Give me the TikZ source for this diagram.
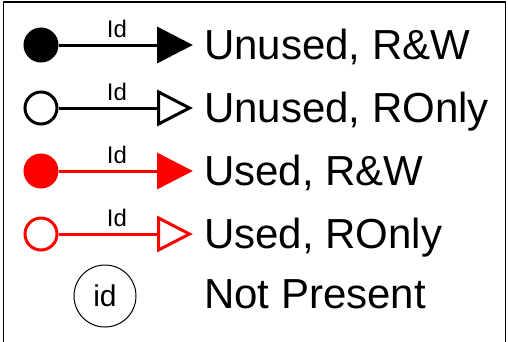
\documentclass[tikz,border=0pt]{standalone}
\usepackage{fontspec}
\setmainfont{Liberation Sans}
\begin{document}
\begin{tikzpicture}[x=1pt,y=-1pt,
  endpoint/.style={circle,draw,line width=3pt,minimum size=32pt,inner sep=0pt},
  link/.style={line width=3pt},
  head/.style={line width=3pt,line join=miter},
  idlabel/.style={font=\fontsize{24}{24}\selectfont,anchor=base,inner sep=0pt},
  legendtext/.style={font=\fontsize{42}{42}\selectfont,anchor=base west,inner sep=0pt}]
  \useasboundingbox (0,0) rectangle (508,341);
  % frame, open at the bottom edge
  \draw[line width=1.8pt] (3.5,360) -- (3.5,2) -- (505.5,2) -- (505.5,360);

  % Unused, R&W
  \node[endpoint,fill=black] (s1) at (41,45) {};
  \coordinate (b1) at (158.5,45);
  \draw[link] (s1) -- (b1);
  \draw[head,fill=black] (b1) ++(0,-16) -- ++(31,16) -- ++(-31,16) -- cycle;
  \node[idlabel] (l1) at (117,37) {Id};
  \node[legendtext] (t1) at (204,59) {Unused, R\&W};

  % Unused, ROnly
  \node[endpoint,fill=white] (s2) at (41,108) {};
  \coordinate (b2) at (158.5,108);
  \draw[link] (s2) -- (b2);
  \draw[head,fill=white] (b2) ++(0,-16) -- ++(31,16) -- ++(-31,16) -- cycle;
  \node[idlabel] (l2) at (117,100) {Id};
  \node[legendtext] (t2) at (204,122) {Unused, ROnly};

  % Used, R&W
  \node[endpoint,draw=red,fill=red] (s3) at (41,171) {};
  \coordinate (b3) at (158.5,171);
  \draw[link,red] (s3) -- (b3);
  \draw[head,draw=red,fill=red] (b3) ++(0,-16) -- ++(31,16) -- ++(-31,16) -- cycle;
  \node[idlabel] (l3) at (117,163) {Id};
  \node[legendtext] (t3) at (204,185) {Used, R\&W};

  % Used, ROnly
  \node[endpoint,draw=red,fill=white] (s4) at (41,234) {};
  \coordinate (b4) at (158.5,234);
  \draw[link,red] (s4) -- (b4);
  \draw[head,draw=red,fill=white] (b4) ++(0,-16) -- ++(31,16) -- ++(-31,16) -- cycle;
  \node[idlabel] (l4) at (117,226) {Id};
  \node[legendtext] (t4) at (204,248) {Used, ROnly};

  % Not Present
  \node[circle,draw,line width=1pt,minimum size=62pt,inner sep=0pt,
        font=\fontsize{30}{30}\selectfont] (np) at (105,296) {id};
  \node[legendtext] (t5) at (204,308) {Not Present};
\end{tikzpicture}
\end{document}
